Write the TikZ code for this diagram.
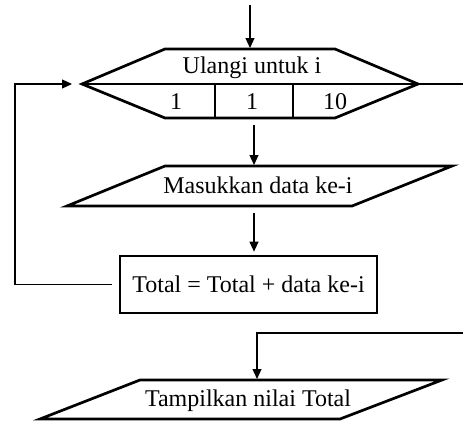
\documentclass[tikz,border=0pt]{standalone}
\usepackage{fontspec}
\setmainfont{Liberation Serif}
\usetikzlibrary{arrows.meta}

\begin{document}
\begin{tikzpicture}[x=1pt, y=-1pt,
    box/.style={line width=2.7pt},
    link/.style={line width=1.2pt},
    flow/.style={link, -{Triangle[length=10pt, width=9pt]}},
    lbl/.style={font=\fontsize{24}{27}\selectfont, inner sep=0pt, anchor=base}]
  \useasboundingbox (0,0) rectangle (463,423);

  % loop header: Ulangi untuk i, 1 s/d 10
  \coordinate (hl) at (82,84);
  \coordinate (hr) at (418,84);
  \coordinate (ht) at (250,49);
  \coordinate (hb) at (254,118);
  \draw[box] (hl) -- (165,49) -- (335,49) -- (hr) -- (335,118) -- (165,118) -- cycle;
  \draw[box] (hl) -- (hr);
  \draw[box] (215,84) -- (215,118);
  \draw[box] (293,84) -- (293,118);
  \node[lbl] (ulang) at (252,73) {Ulangi untuk i};
  \node[lbl] (awal) at (176,109) {1};
  \node[lbl] (langkah) at (252,109) {1};
  \node[lbl] (akhir) at (335,109) {10};

  % input
  \coordinate (mt) at (254,166);
  \coordinate (mb) at (254,206);
  \draw[box] (165,166) -- (452,166) -- (352,206) -- (67,206) -- cycle;
  \node[lbl] (masuk) at (258,193) {Masukkan data ke-i};

  % proses
  \node[box, draw, minimum width=257pt, minimum height=57pt,
        font=\fontsize{24}{27}\selectfont, inner sep=0pt] (sum) at (248.5,284.5) {Total = Total + data ke-i};

  % output
  \coordinate (tt) at (257,380);
  \draw[box] (140,380) -- (442,380) -- (340,419) -- (40,419) -- cycle;
  \node[lbl] (tampil) at (248,406) {Tampilkan nilai Total};

  % connectors
  \coordinate (in) at (250,5);
  \coordinate (loopx) at (15,84);
  \coordinate (exit) at (463,84);
  \coordinate (reenter) at (463,333);
  \draw[flow, shorten >=1pt] (in) -- (ht);
  \draw[flow, shorten <=7pt, shorten >=1pt] (hb) -- (mt);
  \draw[flow, shorten <=7pt, shorten >=3pt] (mb) -- (mb |- sum.north);
  \draw[flow, shorten <=7pt, shorten >=10pt] (sum.west) -| (loopx) -- (hl);
  \draw[link] (hr) -- (exit);
  \draw[flow, shorten >=1pt] (reenter) -| (tt);
\end{tikzpicture}
\end{document}
